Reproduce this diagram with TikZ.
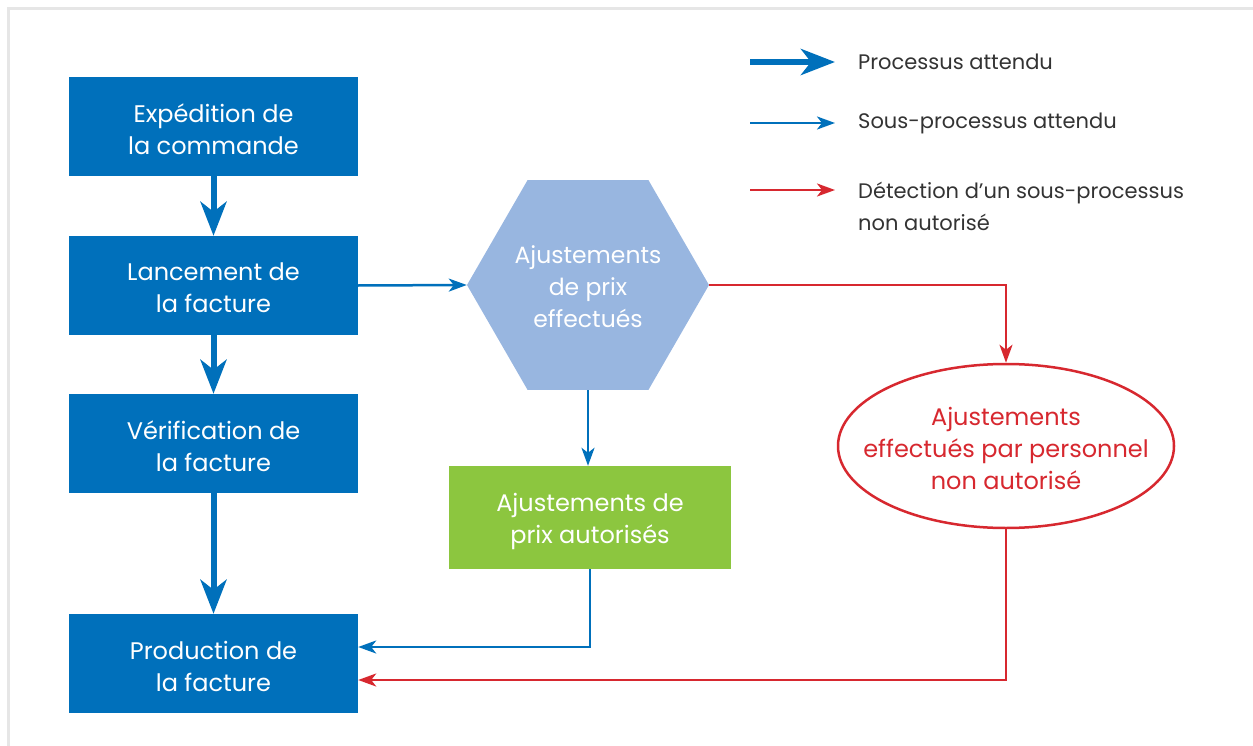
\documentclass[tikz,border=0pt]{standalone}
\usepackage{fontspec}
\setmainfont{Poppins}
\usetikzlibrary{arrows.meta,shapes.geometric}
\definecolor{boxblue}{HTML}{0070BB}
\definecolor{hexblue}{HTML}{98B6E0}
\definecolor{boxgreen}{HTML}{8CC63F}
\definecolor{myred}{HTML}{D7282F}
\definecolor{frame}{HTML}{E6E6E6}
\definecolor{legtext}{HTML}{333333}
\begin{document}
\begin{tikzpicture}[x=1pt,y=-1pt,
  mainbox/.style={draw=none,fill=boxblue,minimum width=289pt,minimum height=99pt,inner sep=0pt},
  greenbox/.style={draw=none,fill=boxgreen,minimum width=282pt,minimum height=103pt,inner sep=0pt},
  boxtext/.style={text=white,align=center,font=\fontsize{24}{32}\selectfont,inner sep=0pt},
  hexshape/.style={regular polygon,regular polygon sides=6,fill=hexblue,draw=none,minimum size=242pt,inner sep=0pt},
  hextext/.style={text=white,align=center,font=\fontsize{23.5}{32}\selectfont,inner sep=0pt},
  ellshape/.style={ellipse,draw=myred,line width=2.5pt,fill=white,minimum width=336pt,minimum height=164pt,inner sep=0pt},
  elltext/.style={text=myred,align=center,font=\fontsize{24}{32}\selectfont,inner sep=0pt},
  legend/.style={text=legtext,anchor=west,align=left,font=\fontsize{21}{32}\selectfont,inner sep=0pt},
  thickarrow/.style={draw=boxblue,line width=6pt,-{Stealth[length=34pt,width=26pt,inset=10pt]}},
  thinarrow/.style={draw=boxblue,line width=2.5pt,-{Stealth[length=18pt,width=13pt,inset=5pt]}},
  redarrow/.style={draw=myred,line width=2.5pt,-{Stealth[length=18pt,width=13pt,inset=5pt]}}
]
\useasboundingbox (0,0) rectangle (1253,746);
\draw[frame,line width=3pt] (8.5,8.5) rectangle (1290,790);

\node[mainbox] (b1) at (213.5,126.5) {};
\node[mainbox] (b2) at (213.5,285.5) {};
\node[mainbox] (b3) at (213.5,443.5) {};
\node[mainbox] (b4) at (213.5,663.5) {};
\node[boxtext] (b1t) at (213.5,129) {Expédition de\\la commande};
\node[boxtext] (b2t) at (213.5,288) {Lancement de\\la facture};
\node[boxtext] (b3t) at (213.5,446) {Vérification de\\la facture};
\node[boxtext] (b4t) at (213.5,666) {Production de\\la facture};

\node[hexshape] (hex) at (588,285) {};
\node[hextext] (hext) at (588,287) {Ajustements\\de prix\\effectués};

\node[greenbox] (gr) at (590,517.5) {};
\node[boxtext] (grt) at (590,521) {Ajustements de\\prix autorisés};

\node[ellshape] (ell) at (1006,446) {};
\node[elltext] (ellt) at (1006,448) {Ajustements\\effectués par personnel\\non autorisé};

\draw[thickarrow] (b1.south) -- (b2.north);
\draw[thickarrow] (b2.south) -- (b3.north);
\draw[thickarrow] (b3.south) -- (b4.north);

\draw[thinarrow] (b2.east) -- (hex.west);
\draw[thinarrow] (hex.south) -- (gr.north -| hex.south);
\draw[thinarrow] (gr.south) |- ([yshift=16.5pt]b4.east);
\draw[redarrow] (hex.east) -| (ell.north);
\draw[redarrow] (ell.south) |- ([yshift=-16.5pt]b4.east);

% legend
\coordinate (l1a) at (750,62); \coordinate (l1b) at (835,62);
\coordinate (l2a) at (750,123); \coordinate (l2b) at (835,123);
\coordinate (l3a) at (750,190); \coordinate (l3b) at (835,190);
\draw[thickarrow] (l1a) -- (l1b);
\draw[thinarrow] (l2a) -- (l2b);
\draw[redarrow] (l3a) -- (l3b);
\node[legend] (t1) at (858,62) {Processus attendu};
\node[legend] (t2) at (858,123) {Sous-processus attendu};
\node[legend] (t3) at (858,206) {Détection d’un sous-processus\\non autorisé};
\end{tikzpicture}
\end{document}
